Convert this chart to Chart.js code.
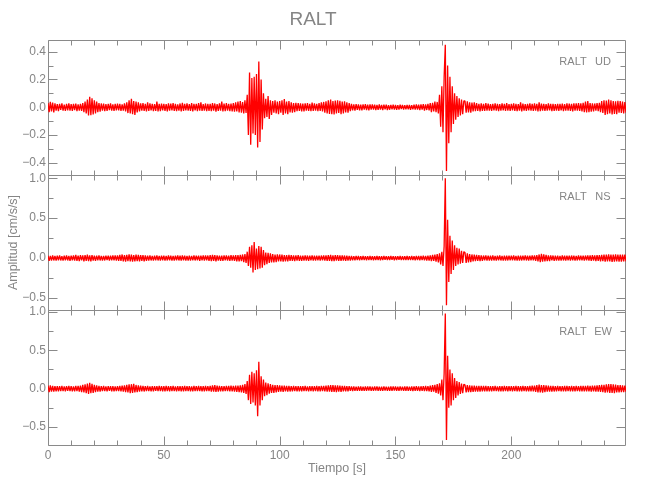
<!DOCTYPE html>
<html><head><meta charset="utf-8">
<script src="https://cdn.jsdelivr.net/npm/chart.js@4.4.1/dist/chart.umd.min.js"></script>
<style>html,body{margin:0;padding:0;background:#fff;}</style>
</head><body>
<canvas id="c" width="650" height="500"></canvas>
<script>
// ---- data (one value every 0.5 s) ----
const title = 'RALT';
const station = 'RALT';
const sampleInterval = 0.5; // s
const xTitle = 'Tiempo [s]';
const yTitle = 'Amplitud [cm/s/s]';

const xTickValues = [0, 50, 100, 150, 200];
const udTickValues = [-0.4, -0.2, 0.0, 0.2, 0.4];
const nsTickValues = [-0.5, 0.0, 0.5, 1.0];
const ewTickValues = [-0.5, 0.0, 0.5, 1.0];

const udValues = [
.03,-.035,.038,-.03,.034,-.038,.028,-.025,.022,-.028,.025,-.02,.027,-.024,.019,-.026,.024,-.022,.028,-.025,
.022,-.027,.025,-.021,.026,-.028,.02,-.025,.024,-.027,.03,-.035,.04,-.045,.055,-.06,.075,-.058,.065,-.052,
.05,-.045,.04,-.035,.03,-.032,.027,-.024,.026,-.029,.022,-.026,.025,-.021,.028,-.024,.02,-.027,.025,-.023,
.026,-.022,.024,-.027,.021,-.025,.028,-.03,.035,-.042,.05,-.045,.06,-.05,.045,-.055,.04,-.038,.035,-.03,
.028,-.025,.03,-.027,.024,-.03,.035,-.026,.027,-.023,.025,-.029,.022,-.026,.04,-.03,.025,-.028,.026,-.022,
.025,-.027,.023,-.03,.028,-.024,.026,-.022,.03,-.027,.024,-.028,.021,-.025,.027,-.03,.032,-.026,.025,-.023,
.027,-.024,.022,-.026,.029,-.031,.025,-.022,.024,-.028,.03,-.025,.036,-.027,.022,-.025,.027,-.029,.024,-.026,
.025,-.028,.03,-.024,.027,-.032,.023,-.026,.028,-.025,.04,-.03,.026,-.028,.03,-.025,.024,-.029,.027,-.03,
.03,-.032,.035,-.03,.04,-.038,.045,-.04,.038,-.045,.05,-.042,.09,-.2,.25,-.27,.21,-.19,.22,-.2,
.24,-.29,.33,-.25,.2,-.16,.1,-.08,.06,-.07,.08,-.085,.05,-.055,.045,-.04,.05,-.045,.04,-.05,
.045,-.04,.05,-.055,.058,-.045,.04,-.05,.045,-.038,.035,-.04,.03,-.035,.032,-.028,.03,-.026,.028,-.03,
.026,-.03,.028,-.024,.03,-.027,.025,-.029,.033,-.026,.027,-.024,.025,-.028,.03,-.026,.035,-.03,.038,-.04,
.042,-.045,.05,-.048,.055,-.05,.045,-.052,.048,-.045,.05,-.042,.046,-.05,.04,-.045,.042,-.038,.036,-.04,
.03,-.028,.025,-.022,.02,-.024,.022,-.019,.021,-.023,.018,-.022,.02,-.018,.022,-.02,.019,-.023,.021,-.018,
.02,-.017,.018,-.021,.016,-.019,.02,-.018,.017,-.02,.019,-.016,.018,-.02,.015,-.018,.017,-.016,.019,-.017,
.016,-.018,.015,-.017,.018,-.014,.016,-.017,.015,-.016,.017,-.015,.016,-.018,.014,-.016,.018,-.017,.02,-.018,
.019,-.021,.02,-.018,.022,-.024,.021,-.02,.025,-.023,.03,-.035,.032,-.03,.04,-.035,.038,-.045,.09,-.14,
.15,-.18,.22,.45,-.46,.3,-.26,.22,-.18,.15,-.12,.1,-.09,.08,-.07,.065,-.06,.055,-.05,.045,
.045,-.04,.042,-.038,.035,-.04,.033,-.03,.035,-.028,.03,-.027,.025,-.03,.028,-.026,.024,-.027,.029,-.025,
.026,-.024,.023,-.027,.025,-.022,.027,-.025,.024,-.028,.022,-.025,.027,-.023,.025,-.026,.03,-.025,.023,-.027,
.025,-.022,.027,-.026,.024,-.028,.022,-.025,.035,-.03,.026,-.024,.023,-.027,.025,-.023,.028,-.025,.024,-.026,
.027,-.024,.025,-.03,.035,-.028,.026,-.025,.024,-.027,.022,-.025,.027,-.023,.025,-.028,.024,-.026,.023,-.025,
.025,-.027,.024,-.022,.026,-.028,.023,-.025,.028,-.024,.026,-.027,.024,-.03,.028,-.025,.027,-.024,.03,-.026,
.028,-.03,.032,-.035,.04,-.038,.045,-.035,.03,-.032,.028,-.03,.027,-.025,.03,-.028,.032,-.035,.045,-.042,
.05,-.055,.048,-.05,.055,-.045,.05,-.052,.045,-.048,.042,-.05,.046,-.04,.045,-.042,.04,-.045,.038,-.04
];

const nsValues = [
.03,-.035,.028,-.032,.035,-.03,.027,-.033,.03,-.028,.033,-.03,.025,-.031,.029,-.027,.032,-.03,.028,-.034,
.03,-.028,.035,-.033,.04,-.035,.032,-.038,.036,-.03,.034,-.04,.038,-.035,.042,-.038,.035,-.04,.037,-.033,
.032,-.035,.03,-.028,.033,-.03,.028,-.032,.027,-.03,.031,-.026,.029,-.033,.03,-.028,.032,-.03,.035,-.032,
.033,-.036,.04,-.035,.045,-.042,.038,-.045,.04,-.038,.045,-.04,.042,-.046,.038,-.04,.043,-.037,.04,-.042,
.038,-.035,.036,-.04,.033,-.035,.03,-.032,.034,-.03,.028,-.033,.031,-.029,.033,-.03,.028,-.032,.03,-.027,
.03,-.033,.027,-.03,.032,-.029,.03,-.031,.028,-.033,.03,-.027,.032,-.03,.029,-.031,.033,-.028,.03,-.032,
.028,-.031,.03,-.033,.027,-.029,.032,-.03,.029,-.027,.031,-.034,.03,-.028,.033,-.031,.035,-.03,.032,-.034,
.036,-.038,.04,-.035,.038,-.04,.035,-.033,.032,-.036,.03,-.034,.033,-.03,.035,-.032,.03,-.034,.036,-.032,
.033,-.035,.038,-.04,.036,-.042,.04,-.038,.045,-.05,.05,-.06,.08,-.1,.14,-.12,.16,-.18,.2,-.15,
.12,-.14,.15,-.13,.14,-.12,.1,-.09,.07,-.075,.065,-.06,.06,-.055,.05,-.055,.045,-.05,.048,-.042,
.045,-.04,.042,-.045,.038,-.04,.036,-.042,.04,-.035,.038,-.036,.033,-.037,.035,-.032,.036,-.034,.032,-.035,
.03,-.033,.035,-.031,.032,-.034,.03,-.028,.033,-.031,.029,-.032,.031,-.028,.03,-.033,.032,-.03,.034,-.031,
.033,-.036,.038,-.035,.04,-.037,.035,-.038,.036,-.033,.037,-.035,.033,-.036,.034,-.031,.032,-.034,.03,-.032,
.028,-.03,.026,-.028,.025,-.027,.028,-.024,.026,-.028,.024,-.026,.027,-.025,.025,-.027,.024,-.026,.027,-.024,
.025,-.027,.023,-.025,.026,-.024,.025,-.027,.023,-.025,.026,-.023,.024,-.026,.025,-.024,.026,-.023,.025,-.027,
.024,-.026,.025,-.023,.026,-.025,.023,-.026,.025,-.024,.027,-.025,.024,-.026,.026,-.024,.025,-.027,.028,-.026,
.027,-.029,.028,-.026,.03,-.028,.027,-.03,.029,-.032,.035,-.038,.04,-.036,.042,-.045,.05,-.055,.06,-.08,
.08,-.1,.15,1.0,-.59,.48,-.3,.28,-.2,.22,-.15,.16,-.1,.13,-.08,.12,-.07,.09,-.06,.08,
.07,-.06,.06,-.055,.05,-.05,.045,-.04,.042,-.038,.04,-.035,.036,-.038,.033,-.035,.032,-.03,.034,-.031,
.03,-.032,.029,-.031,.033,-.03,.028,-.032,.03,-.029,.032,-.03,.028,-.031,.03,-.033,.029,-.03,.031,-.028,
.03,-.029,.032,-.03,.028,-.031,.03,-.033,.029,-.03,.031,-.028,.033,-.03,.029,-.032,.03,-.028,.032,-.03,
.033,-.035,.038,-.04,.045,-.05,.052,-.045,.048,-.042,.04,-.038,.035,-.037,.033,-.03,.032,-.034,.03,-.032,
.03,-.032,.028,-.031,.033,-.03,.029,-.032,.031,-.028,.03,-.033,.032,-.029,.03,-.031,.028,-.03,.032,-.03,
.031,-.029,.03,-.033,.032,-.03,.034,-.032,.033,-.035,.036,-.033,.035,-.037,.038,-.035,.037,-.04,.04,-.038,
.042,-.045,.044,-.04,.046,-.043,.045,-.048,.043,-.045,.047,-.042,.045,-.044,.043,-.046,.044,-.042,.045,-.043
];

const ewValues = [
.04,-.045,.042,-.038,.036,-.04,.033,-.035,.032,-.036,.034,-.031,.035,-.033,.03,-.034,.032,-.03,.035,-.033,
.033,-.035,.031,-.034,.036,-.033,.035,-.038,.04,-.045,.05,-.048,.055,-.06,.065,-.07,.075,-.06,.062,-.055,
.05,-.045,.042,-.04,.036,-.038,.034,-.032,.035,-.033,.031,-.035,.034,-.03,.033,-.035,.032,-.034,.03,-.033,
.034,-.032,.036,-.035,.038,-.04,.042,-.045,.05,-.048,.055,-.06,.058,-.055,.062,-.05,.048,-.045,.042,-.04,
.038,-.036,.035,-.037,.034,-.032,.035,-.033,.031,-.034,.033,-.035,.032,-.03,.034,-.033,.036,-.032,.033,-.035,
.032,-.034,.035,-.031,.033,-.036,.034,-.032,.036,-.033,.031,-.035,.034,-.032,.033,-.035,.032,-.034,.035,-.031,
.034,-.032,.033,-.035,.031,-.034,.036,-.033,.034,-.031,.035,-.033,.032,-.036,.033,-.034,.036,-.032,.034,-.033,
.035,-.038,.042,-.04,.045,-.042,.04,-.038,.036,-.035,.033,-.036,.034,-.032,.035,-.033,.036,-.034,.038,-.035,
.036,-.038,.04,-.042,.038,-.045,.042,-.048,.05,-.055,.06,-.07,.1,-.15,.18,-.2,.22,-.18,.2,-.22,
.24,-.36,.35,-.22,.16,-.15,.12,-.1,.08,-.085,.07,-.065,.06,-.055,.05,-.055,.048,-.05,.045,-.042,
.042,-.04,.038,-.042,.04,-.037,.036,-.038,.035,-.037,.033,-.036,.035,-.032,.034,-.036,.033,-.035,.032,-.034,
.034,-.032,.035,-.033,.031,-.035,.034,-.032,.033,-.036,.034,-.032,.035,-.034,.032,-.035,.036,-.033,.035,-.037,
.038,-.04,.042,-.04,.045,-.043,.046,-.042,.044,-.045,.042,-.04,.038,-.041,.037,-.035,.036,-.034,.033,-.035,
.032,-.03,.029,-.031,.028,-.03,.027,-.029,.03,-.027,.028,-.03,.026,-.028,.029,-.027,.028,-.026,.029,-.028,
.027,-.029,.028,-.026,.029,-.027,.026,-.028,.027,-.029,.028,-.026,.027,-.028,.026,-.029,.028,-.027,.029,-.026,
.028,-.027,.026,-.028,.029,-.026,.027,-.029,.028,-.027,.03,-.028,.027,-.03,.029,-.031,.03,-.028,.031,-.03,
.03,-.032,.031,-.029,.033,-.031,.035,-.033,.034,-.036,.04,-.042,.045,-.04,.05,-.055,.06,-.065,.07,-.09,
.12,-.15,.2,.98,-.67,.43,-.25,.25,-.22,.2,-.15,.14,-.12,.1,-.09,.085,-.07,.065,-.06,.055,
.05,-.048,.045,-.046,.042,-.044,.04,-.042,.038,-.04,.037,-.039,.036,-.038,.035,-.037,.036,-.034,.035,-.036,
.034,-.036,.033,-.035,.034,-.032,.035,-.033,.031,-.034,.033,-.035,.032,-.034,.035,-.031,.033,-.035,.034,-.032,
.033,-.035,.034,-.032,.036,-.034,.033,-.035,.032,-.034,.035,-.033,.034,-.036,.033,-.035,.036,-.034,.038,-.036,
.04,-.042,.045,-.048,.052,-.05,.048,-.052,.045,-.046,.042,-.04,.038,-.04,.036,-.038,.035,-.037,.034,-.036,
.035,-.033,.034,-.036,.033,-.035,.036,-.034,.035,-.033,.034,-.036,.035,-.034,.033,-.035,.036,-.033,.034,-.035,
.036,-.034,.035,-.037,.036,-.035,.038,-.036,.037,-.039,.038,-.036,.04,-.038,.042,-.04,.045,-.043,.048,-.046,
.05,-.052,.055,-.05,.058,-.055,.06,-.057,.055,-.058,.052,-.05,.048,-.05,.045,-.047,.042,-.044,.04,-.042
];

// axis ranges / tick steps
const xRange = [0, 249.5];
const xMajorStep = 50, xMinorStep = 10;
const panels = [
  {id: 'yUD', comp: 'UD', values: udValues, ticks: udTickValues, min: -0.488, max: 0.484, major: 0.2, minor: 0.1},
  {id: 'yNS', comp: 'NS', values: nsValues, ticks: nsTickValues, min: -0.65, max: 1.04, major: 0.5, minor: 0.25},
  {id: 'yEW', comp: 'EW', values: ewValues, ticks: ewTickValues, min: -0.735, max: 1.026, major: 0.5, minor: 0.25}
];

// ---- styling ----
const FONT = "'Liberation Sans', Arimo, sans-serif";
const TEXT_COLOR = '#858585';
const FRAME_COLOR = '#8a8a8a';
const LINE_COLOR = '#ff0000';
const MAJOR_LEN = 9, MINOR_LEN = 5;

const fmt = v => {
  const s = Math.abs(v) < 1e-9 ? '0.0' : v.toFixed(1);
  return s.replace('-', '\u2212');
};

const panelFrame = {
  id: 'panelFrame',
  beforeDatasetsDraw(chart) {
    const {ctx, chartArea: ca} = chart;
    const xs = chart.scales.x;
    const L = Math.round(ca.left) + 0.5, R = Math.round(ca.right) - 0.5;
    ctx.save();
    ctx.strokeStyle = FRAME_COLOR;
    ctx.lineWidth = 1;
    panels.forEach(p => {
      const ys = chart.scales[p.id];
      const T = Math.round(ys.top) + 0.5, B = Math.round(ys.bottom) + 0.5;
      ctx.beginPath();
      ctx.moveTo(L, T); ctx.lineTo(R, T); ctx.lineTo(R, B); ctx.lineTo(L, B); ctx.closePath();
      const n0 = Math.ceil(p.min / p.minor - 1e-9), n1 = Math.floor(p.max / p.minor + 1e-9);
      for (let n = n0; n <= n1; n++) {
        const v = n * p.minor;
        const r = v / p.major;
        const len = Math.abs(r - Math.round(r)) < 1e-6 ? MAJOR_LEN : MINOR_LEN;
        const y = Math.round(ys.getPixelForValue(v)) + 0.5;
        ctx.moveTo(L, y); ctx.lineTo(L + len, y);
        ctx.moveTo(R, y); ctx.lineTo(R - len, y);
      }
      const m0 = Math.ceil(xs.min / xMinorStep), m1 = Math.floor(xs.max / xMinorStep);
      for (let m = m0; m <= m1; m++) {
        const v = m * xMinorStep;
        const len = (v % xMajorStep === 0) ? MAJOR_LEN : MINOR_LEN;
        const x = Math.round(xs.getPixelForValue(v)) + 0.5;
        ctx.moveTo(x, T); ctx.lineTo(x, T + len);
        ctx.moveTo(x, B); ctx.lineTo(x, B - len);
      }
      ctx.stroke();
    });
    ctx.restore();
  },
  afterDraw(chart) {
    const {ctx, chartArea: ca} = chart;
    ctx.save();
    ctx.fillStyle = TEXT_COLOR;
    ctx.font = '11px ' + FONT;
    ctx.textBaseline = 'middle';
    ctx.textAlign = 'center';
    panels.forEach(p => {
      const ys = chart.scales[p.id];
      ctx.fillText(station, ca.right - 53, ys.top + 22);
      ctx.fillText(p.comp, ca.right - 23, ys.top + 22);
    });
    ctx.restore();
  }
};

const scales = {
  x: {
    type: 'linear', position: 'bottom', min: xRange[0], max: xRange[1],
    grid: {display: false, drawTicks: false}, border: {display: false},
    afterBuildTicks: s => { s.ticks = xTickValues.map(v => ({value: v})); },
    ticks: {autoSkip: false, maxRotation: 0, padding: 3, color: TEXT_COLOR,
      font: {family: FONT, size: 12}, callback: v => String(v)},
    title: {display: true, text: xTitle, color: TEXT_COLOR, font: {family: FONT, size: 12.5, lineHeight: 1.2},
      padding: {top: 0, bottom: 24}},
    afterFit: s => { s.height = 55; }
  }
};
panels.slice().reverse().forEach(p => {
  scales[p.id] = {
    type: 'linear', position: 'left', stack: 'seis', stackWeight: 1, offset: false,
    min: p.min, max: p.max,
    grid: {display: false, drawTicks: false}, border: {display: false},
    afterBuildTicks: s => { s.ticks = p.ticks.map(v => ({value: v})); },
    ticks: {autoSkip: false, padding: 2, color: TEXT_COLOR, font: {family: FONT, size: 12},
      callback: v => fmt(v)},
    title: {display: p.id === 'yNS', text: yTitle, color: TEXT_COLOR,
      font: {family: FONT, size: 12.5, lineHeight: 1.2}, padding: {top: 6, bottom: 0}},
    afterFit: s => { s.width = 48; }
  };
});

const datasets = panels.map(p => ({
  label: station + ' ' + p.comp,
  yAxisID: p.id,
  xAxisID: 'x',
  data: p.values.map((v, i) => ({x: i * sampleInterval, y: v})),
  borderColor: LINE_COLOR,
  borderWidth: 1.3,
  borderJoinStyle: 'bevel',
  pointRadius: 0,
  tension: 0,
  fill: false
}));

new Chart(document.getElementById('c'), {
  type: 'line',
  data: {datasets},
  options: {
    responsive: false,
    animation: false,
    layout: {padding: {left: 0, right: 24, top: 0, bottom: 0}},
    plugins: {
      legend: {display: false},
      tooltip: {enabled: false},
      title: {display: true, text: title, color: TEXT_COLOR,
        font: {family: FONT, size: 19, weight: 'normal', lineHeight: 1.2}, padding: {top: 8.6, bottom: 8.6}}
    },
    scales
  },
  plugins: [panelFrame]
});
</script>
</body></html>
